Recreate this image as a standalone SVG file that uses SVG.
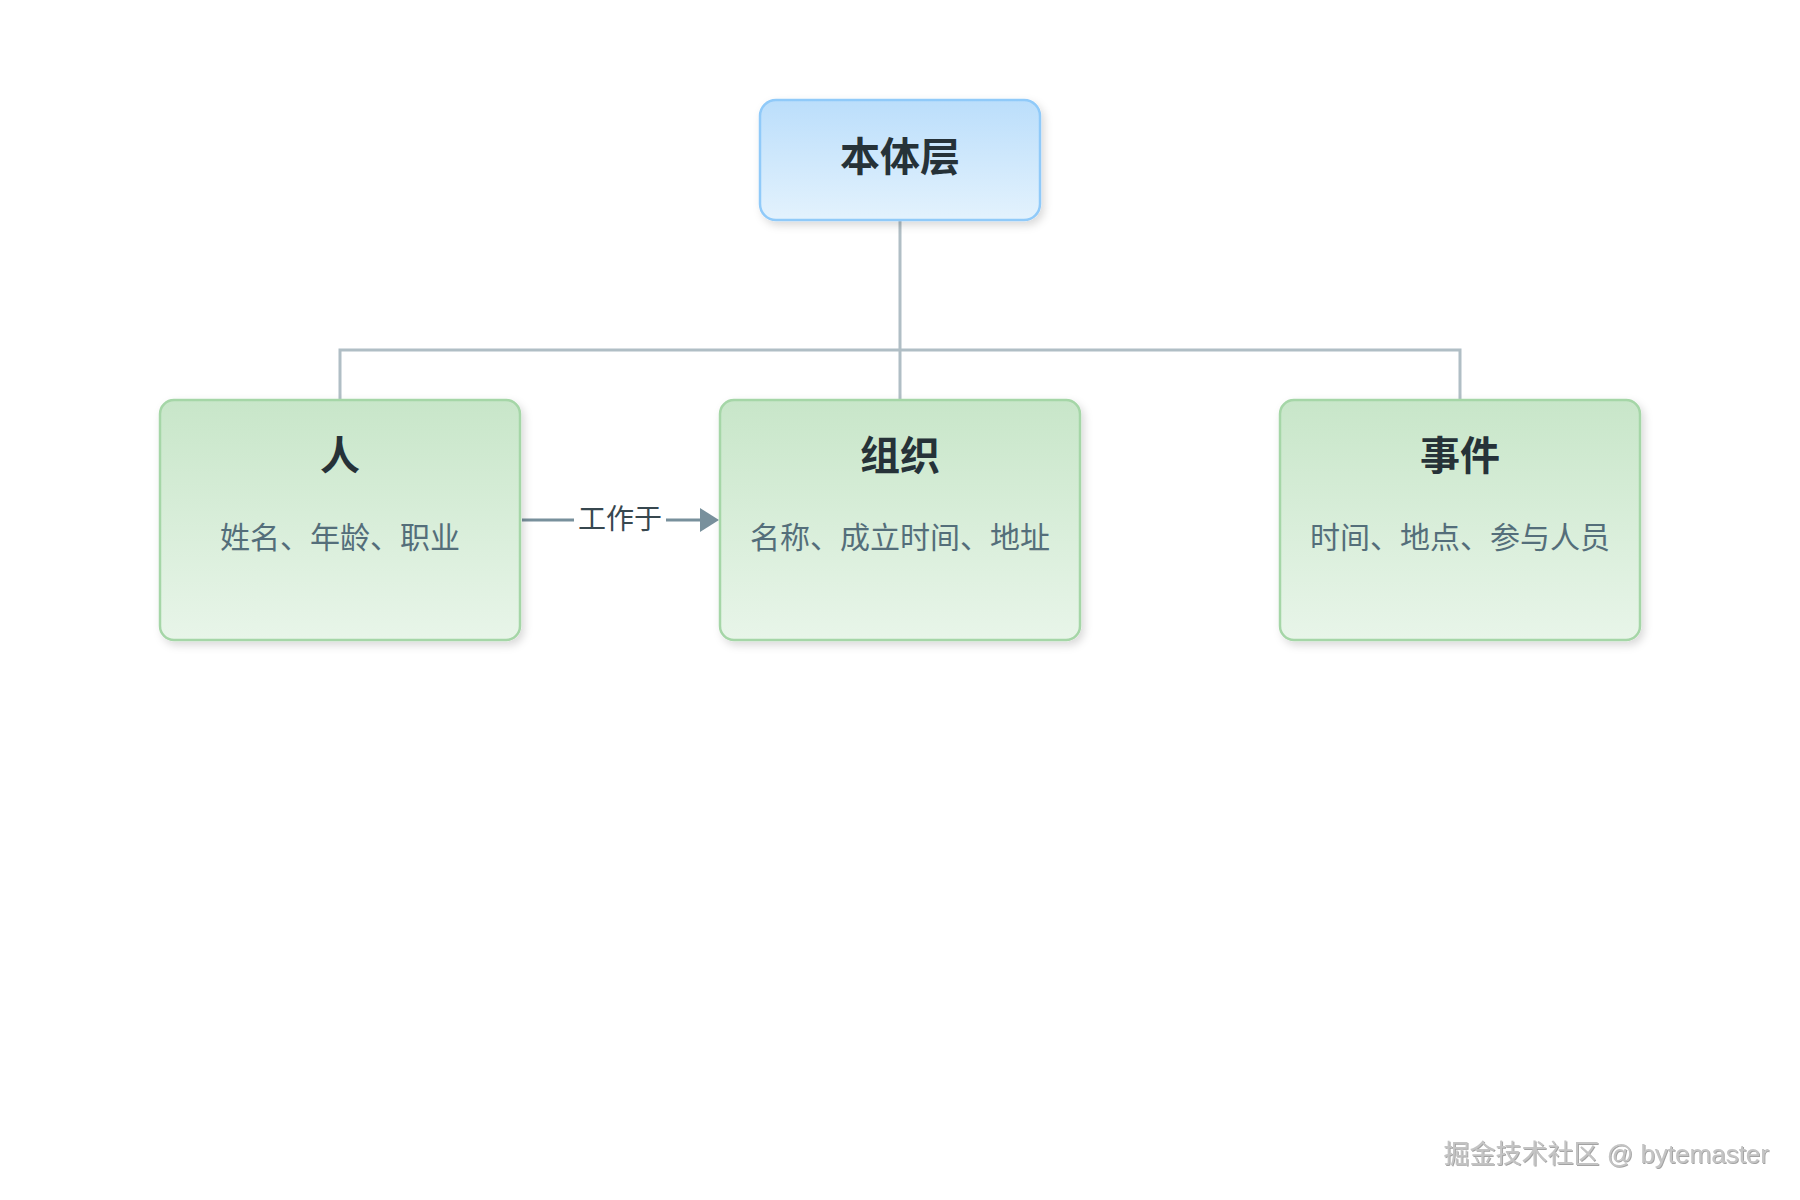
<svg xmlns="http://www.w3.org/2000/svg" width="1800" height="1200" viewBox="0 0 1800 1200">
<defs>
<linearGradient id="gBlue" x1="0" y1="0" x2="0" y2="1">
<stop offset="0" stop-color="#bbdefb"/>
<stop offset="1" stop-color="#e3f2fd"/>
</linearGradient>
<linearGradient id="gGreen" x1="0" y1="0" x2="0" y2="1">
<stop offset="0" stop-color="#c8e6c9"/>
<stop offset="1" stop-color="#e8f5e9"/>
</linearGradient>
<filter id="shadow" x="-10%" y="-10%" width="130%" height="130%">
<feDropShadow dx="3" dy="4" stdDeviation="4" flood-color="#000" flood-opacity="0.15"/>
</filter>
<filter id="emboss" x="-5%" y="-20%" width="110%" height="150%">
<feDropShadow dx="1" dy="1" stdDeviation="0.6" flood-color="#666" flood-opacity="0.6"/>
</filter>
<style>
.title{font-family:"Noto Sans CJK SC","Noto Sans",sans-serif;font-weight:bold;font-size:40px;fill:#263238;text-anchor:middle}
.sub{font-family:"Noto Sans CJK SC","Noto Sans",sans-serif;font-size:30px;fill:#546e7a;text-anchor:middle}
.lbl{font-family:"Noto Sans CJK SC","Noto Sans",sans-serif;font-size:28px;fill:#37474f;text-anchor:middle}
.tree{fill:none;stroke:#b0bec5;stroke-width:3}
.rel{fill:none;stroke:#78909c;stroke-width:3}
.wm{font-family:"Liberation Sans","Noto Sans CJK SC",sans-serif;font-size:26px;fill:#c4c4c4;text-anchor:end}
</style>
</defs>
<rect width="1800" height="1200" fill="#ffffff"/>
<g id="connectors">
<path class="tree" d="M900,220 V350 M340,400 V350 H1460 V400 M900,350 V400"/>
<line class="rel" x1="522" y1="520" x2="574" y2="520"/>
<path class="rel" d="M666,520 H700"/>
<path d="M700,508 L719,520 L700,532 Z" fill="#78909c"/>
<text class="lbl" x="620" y="529">工作于</text>
</g>
<g id="node-root">
<rect x="760" y="100" width="280" height="120" rx="16" fill="url(#gBlue)" stroke="#90caf9" stroke-width="2.5" filter="url(#shadow)"/>
<text class="title" x="900" y="171">本体层</text>
</g>
<g id="node-person">
<rect x="160" y="400" width="360" height="240" rx="14" fill="url(#gGreen)" stroke="#a5d6a7" stroke-width="2.5" filter="url(#shadow)"/>
<text class="title" x="340" y="470">人</text>
<text class="sub" x="340" y="548">姓名、年龄、职业</text>
</g>
<g id="node-org">
<rect x="720" y="400" width="360" height="240" rx="14" fill="url(#gGreen)" stroke="#a5d6a7" stroke-width="2.5" filter="url(#shadow)"/>
<text class="title" x="900" y="470">组织</text>
<text class="sub" x="900" y="548">名称、成立时间、地址</text>
</g>
<g id="node-event">
<rect x="1280" y="400" width="360" height="240" rx="14" fill="url(#gGreen)" stroke="#a5d6a7" stroke-width="2.5" filter="url(#shadow)"/>
<text class="title" x="1460" y="470">事件</text>
<text class="sub" x="1460" y="548">时间、地点、参与人员</text>
</g>
<text class="wm" x="1769" y="1163" filter="url(#emboss)">掘金技术社区 @ bytemaster</text>
</svg>
